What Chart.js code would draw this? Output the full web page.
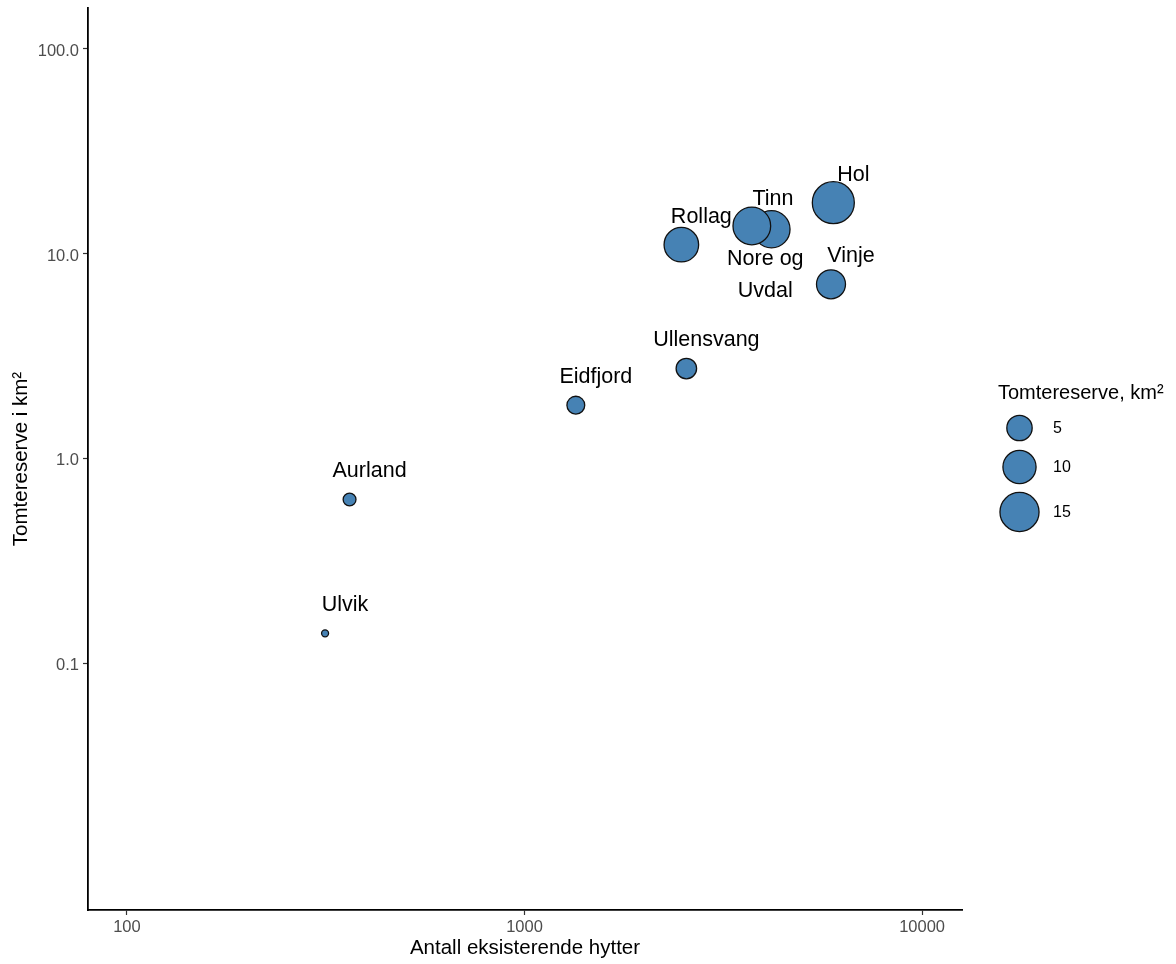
<!DOCTYPE html>
<html>
<head>
<meta charset="utf-8">
<script src="https://cdn.jsdelivr.net/npm/chart.js@4.4.0/dist/chart.umd.min.js"></script>
<style>
  body { margin: 0; background: #fff; }
  #wrap { width: 1176px; height: 964px; }
</style>
</head>
<body>
<div id="wrap"><canvas id="chart" width="1176" height="964"></canvas></div>
<script>
// 데이터
var kommuner = ['Ulvik', 'Aurland', 'Eidfjord', 'Ullensvang', 'Rollag', 'Tinn', 'Nore og Uvdal', 'Vinje', 'Hol'];
var hytter = [315, 363, 1346, 2553, 2480, 4180, 3730, 5900, 5980];          // Antall eksisterende hytter
var tomtereserve = [0.141, 0.634, 1.83, 2.76, 11.1, 13.2, 13.7, 7.11, 17.8]; // km²
var xTicks = [100, 1000, 10000];
var yTicks = [0.1, 1, 10, 100];
var legendSizes = [5, 10, 15];

var FONT = '"Liberation Sans", Arial, sans-serif';

// ggplot scale_size 비슷하게: 지름 1..6 범위, 면적 기준
var sMin = Math.min.apply(null, tomtereserve);
var sMax = Math.max.apply(null, tomtereserve);
function sizeToRadius(v) {
  var t = (v - sMin) / (sMax - sMin);
  return 3.5 * (1 + 5 * Math.sqrt(t));
}

var points = [];
for (var i = 0; i < kommuner.length; i++) {
  points.push({ x: hytter[i], y: tomtereserve[i], r: sizeToRadius(tomtereserve[i]) });
}

// 라벨 위치 (점에서 px 오프셋) - ggrepel 흉내
var labelLayout = {
  'Tinn': { dx: 1.5, dy: -30.5 },
  'Nore og Uvdal': { dx: 13.5, dy: 33.5, lines: ['Nore og', 'Uvdal'], lineGap: 31.7 }
};

var labelPlugin = {
  id: 'bubbleLabels',
  afterDatasetsDraw: function(chart) {
    var ctx = chart.ctx;
    var xs = chart.scales.x, ys = chart.scales.y;
    ctx.save();
    ctx.font = '21.5px ' + FONT;
    ctx.fillStyle = '#000';
    ctx.textAlign = 'center';
    ctx.textBaseline = 'middle';
    for (var i = 0; i < kommuner.length; i++) {
      var px = xs.getPixelForValue(hytter[i]);
      var py = ys.getPixelForValue(tomtereserve[i]);
      var lay = labelLayout[kommuner[i]] || { dx: 20, dy: -28 };
      var lines = lay.lines || [kommuner[i]];
      for (var j = 0; j < lines.length; j++) {
        ctx.fillText(lines[j], px + lay.dx, py + lay.dy + j * (lay.lineGap || 0));
      }
    }
    ctx.restore();
  }
};

// 오른쪽 범례 (크기 범례)
var sizeLegendPlugin = {
  id: 'sizeLegend',
  afterDraw: function(chart) {
    var ctx = chart.ctx;
    var left = chart.chartArea.right + 36;
    ctx.save();
    ctx.fillStyle = '#000';
    ctx.textAlign = 'left';
    ctx.textBaseline = 'middle';
    ctx.font = '20px ' + FONT;
    ctx.fillText('Tomtereserve, km²', left, 393);
    var rowY = [428, 467, 512];
    ctx.font = '16px ' + FONT;
    for (var k = 0; k < legendSizes.length; k++) {
      var r = sizeToRadius(legendSizes[k]);
      ctx.beginPath();
      ctx.arc(left + 21.5, rowY[k], r, 0, Math.PI * 2);
      ctx.fillStyle = '#4682B4';
      ctx.fill();
      ctx.lineWidth = 1.3;
      ctx.strokeStyle = '#111';
      ctx.stroke();
      ctx.fillStyle = '#000';
      ctx.fillText(String(legendSizes[k]), left + 55, rowY[k] + 1);
    }
    ctx.restore();
  }
};

new Chart(document.getElementById('chart'), {
  type: 'bubble',
  data: {
    datasets: [{
      label: 'Tomtereserve, km²',
      data: points,
      backgroundColor: '#4682B4',
      borderColor: '#111',
      borderWidth: 1.3
    }]
  },
  options: {
    responsive: false,
    animation: false,
    events: [],
    layout: { autoPadding: false, padding: { left: 0, top: 8, right: 214, bottom: 0 } },
    plugins: {
      legend: { display: false },
      tooltip: { enabled: false }
    },
    scales: {
      x: {
        type: 'logarithmic',
        min: 79.8,
        max: 12600,
        afterBuildTicks: function(s) { s.ticks = xTicks.map(function(v) { return { value: v }; }); },
        afterFit: function(s) { s.height = 54; s.paddingLeft = 0; s.paddingRight = 0; },
        ticks: {
          autoSkip: false, maxRotation: 0, padding: 3,
          color: '#4d4d4d', font: { family: FONT, size: 16.5 },
          callback: function(v) { return String(v); }
        },
        grid: { drawOnChartArea: false, drawTicks: true, tickLength: 5, tickColor: '#333', tickWidth: 1.2 },
        border: { color: '#000', width: 1.8 },
        title: {
          display: true, text: 'Antall eksisterende hytter', color: '#000',
          font: { family: FONT, size: 20.5 }, padding: { top: 0, bottom: 3 }
        }
      },
      y: {
        type: 'logarithmic',
        min: 0.0063,
        max: 158.5,
        afterBuildTicks: function(s) { s.ticks = yTicks.map(function(v) { return { value: v }; }); },
        afterFit: function(s) { s.width = 88; s.paddingTop = 0; s.paddingBottom = 0; },
        ticks: {
          autoSkip: false, padding: 4, labelOffset: 2,
          color: '#4d4d4d', font: { family: FONT, size: 16.5 },
          callback: function(v) { return Number(v).toFixed(1); }
        },
        grid: { drawOnChartArea: false, drawTicks: true, tickLength: 5, tickColor: '#333', tickWidth: 1.2 },
        border: { color: '#000', width: 1.8 },
        title: {
          display: true, text: 'Tomtereserve i km²', color: '#000',
          font: { family: FONT, size: 20.5 }, padding: { top: 9, bottom: 0 }
        }
      }
    }
  },
  plugins: [labelPlugin, sizeLegendPlugin]
});
</script>
</body>
</html>
